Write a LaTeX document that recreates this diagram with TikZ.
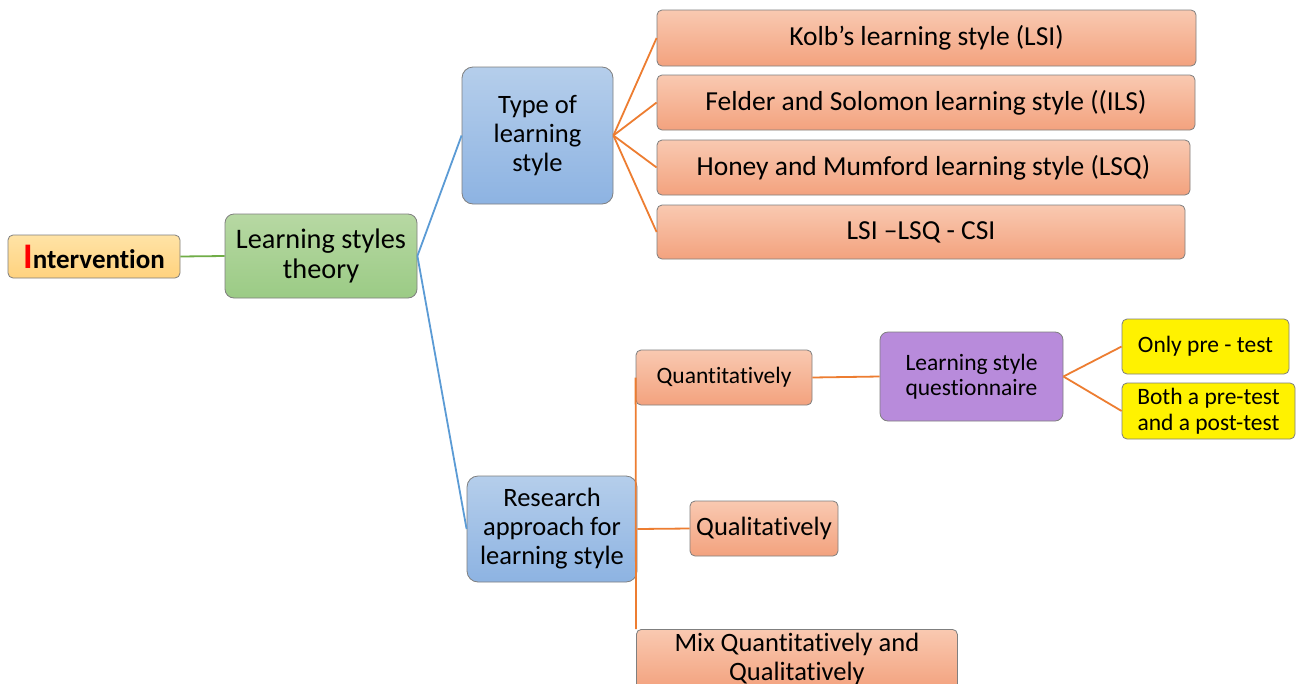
\documentclass[tikz,border=0pt]{standalone}
\usepackage{fontspec}
\setmainfont{Carlito}[Ligatures={NoCommon}]
\usetikzlibrary{shadings}
\definecolor{ortop}{HTML}{F9C9B1}
\definecolor{orbot}{HTML}{F3A27E}
\definecolor{bltop}{HTML}{B5CEEB}
\definecolor{blbot}{HTML}{8DB3E2}
\definecolor{grtop}{HTML}{B7D8A3}
\definecolor{grbot}{HTML}{9BCB85}
\definecolor{intop}{HTML}{FFE3A6}
\definecolor{inbot}{HTML}{FFD27E}
\definecolor{purp}{HTML}{B88BDB}
\definecolor{edge}{HTML}{7F7F7F}
\definecolor{lnor}{HTML}{ED7D31}
\definecolor{lnbl}{HTML}{5B9BD5}
\definecolor{lngr}{HTML}{70AD47}
\tikzset{
  box/.style={draw=edge, line width=0.8pt, rounded corners=5pt, align=center,
    inner sep=0pt, text=black},
  orbox/.style={box, top color=ortop, bottom color=orbot},
  blbox/.style={box, rounded corners=11pt, top color=bltop, bottom color=blbot},
  grbox/.style={box, rounded corners=9pt, top color=grtop, bottom color=grbot},
  inbox/.style={box, top color=intop, bottom color=inbot},
  pubox/.style={box, rounded corners=8pt, fill=purp},
  yebox/.style={box, fill=yellow},
  link/.style={line width=1.8pt},
  fbig/.style={font=\fontsize{28.3}{30}\selectfont},
  fwide/.style={font=\fontsize{27.5}{30}\selectfont},
  fmid/.style={font=\fontsize{26.5}{29}\selectfont},
  fsm/.style={font=\fontsize{23.5}{25}\selectfont},
}
\begin{document}
\begin{tikzpicture}[x=1pt,y=-1pt]
\clip (0,0) rectangle (1296,683);
\fill[white] (0,0) rectangle (1296,683);

% root and first level
\node[inbox, minimum width=172pt, minimum height=43pt,
  font=\bfseries\fontsize{27}{28}\selectfont] (int) at (94,256.5)
  {{\color{red}\fontsize{36}{28}\selectfont I}ntervention};
\node[grbox, fbig, minimum width=192pt, minimum height=84pt] (lst) at (321,256)
  {Learning styles\\theory};

% type of learning style branch
\node[blbox, fmid, minimum width=151pt, minimum height=137pt] (type) at (537.5,135.5)
  {Type of\\learning\\style};
\node[orbox, fwide, minimum width=539pt, minimum height=56pt] (kolb) at (926.5,38)
  {Kolb’s learning style (LSI)};
\node[orbox, fwide, minimum width=538pt, minimum height=55pt] (feld) at (926,102.5)
  {Felder and Solomon learning style ((ILS)};
\node[orbox, fwide, minimum width=533pt, minimum height=55pt] (hon) at (923.5,167.5)
  {Honey and Mumford learning style (LSQ)};
\node[orbox, fwide, minimum width=528pt, minimum height=54pt] (csi) at (921,232)
  {LSI –LSQ - CSI};

% research approach branch
\node[blbox, fmid, minimum width=170pt, minimum height=106pt] (res) at (552,529)
  {Research\\approach for\\learning style};
\node[orbox, fsm, minimum width=176pt, minimum height=55pt] (quan) at (724,377.5)
  {Quantitatively};
\node[pubox, fsm, minimum width=183pt, minimum height=89pt] (lsq) at (971.5,376.5)
  {Learning style\\questionnaire};
\node[yebox, fsm, minimum width=167pt, minimum height=55pt] (pre) at (1205.5,346.5)
  {Only pre - test};
\node[yebox, fsm, minimum width=173pt, minimum height=56pt,
  font=\fontsize{23.5}{26}\selectfont] (both) at (1208.5,411)
  {Both a pre-test\\and a post-test};
\node[orbox, fmid, minimum width=148pt, minimum height=55pt] (qual) at (764,528.5)
  {Qualitatively};
\node[orbox, fmid, minimum width=321pt, minimum height=60pt, anchor=north west]
  (mix) at (636,629) {Mix Quantitatively and\\Qualitatively};

% connectors
\draw[link, lngr] (int.east) -- (lst.west);
\draw[link, lnbl] (lst.east) -- (type.west);
\draw[link, lnbl] (lst.east) -- (res.west);
\foreach \t in {kolb,feld,hon,csi}
  \draw[link, lnor] (type.east) -- (\t.west);
\draw[link, lnor] (quan.west) -- (mix.north west);
\draw[link, lnor] (res.east) -- (qual.west);
\draw[link, lnor] (quan.east) -- (lsq.west);
\draw[link, lnor] (lsq.east) -- (pre.west);
\draw[link, lnor] (lsq.east) -- (both.west);
\end{tikzpicture}
\end{document}
